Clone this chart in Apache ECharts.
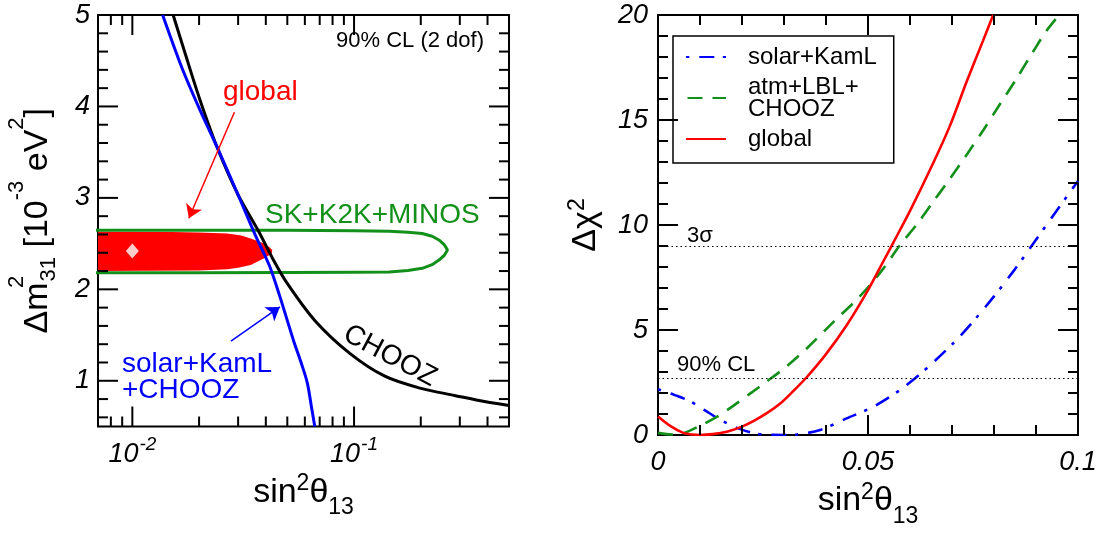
<!DOCTYPE html>
<html><head><meta charset="utf-8">
<script src="https://cdn.jsdelivr.net/npm/echarts@6/dist/echarts.min.js"></script>
<style>html,body{margin:0;padding:0;background:#fff}#c{width:1102px;height:535px}</style>
</head><body><div id="c"></div>
<script>
// ---------------- Left panel data (sin^2 theta13 vs dm^2_31) ----------------
const blueCurveX = [0.0137, 0.01675, 0.0201, 0.02406, 0.0299, 0.0359, 0.0415, 0.0463, 0.0497, 0.0535, 0.0575, 0.0615, 0.0642, 0.0665];
const blueCurveY = [5.0, 4.42, 3.97, 3.56, 3.04, 2.59, 2.26, 1.92, 1.68, 1.43, 1.21, 0.98, 0.72, 0.5];
const choozCurveX = [0.01528, 0.01735, 0.0201, 0.02406, 0.0299, 0.0372, 0.0431, 0.0498, 0.0665, 0.0957, 0.1377, 0.198, 0.284, 0.393, 0.5];
const choozCurveY = [5.0, 4.57, 4.085, 3.56, 3.04, 2.63, 2.33, 2.07, 1.66, 1.3, 1.05, 0.92, 0.84, 0.77, 0.73];
const greenContourX = [0.005, 0.05, 0.1, 0.144, 0.175, 0.203, 0.225, 0.2415, 0.255, 0.264, 0.255, 0.2415, 0.225, 0.203, 0.175, 0.144, 0.1, 0.05, 0.02, 0.005];
const greenContourY = [2.645, 2.645, 2.642, 2.635, 2.625, 2.61, 2.58, 2.54, 2.49, 2.43, 2.37, 2.32, 2.27, 2.23, 2.205, 2.19, 2.188, 2.185, 2.18, 2.18];
const redRegionX = [0.007, 0.015, 0.02, 0.0268, 0.031, 0.0342, 0.0393, 0.0415, 0.0428, 0.0425, 0.0393, 0.0342, 0.030, 0.0268, 0.02, 0.007];
const redRegionY = [2.63, 2.628, 2.622, 2.61, 2.59, 2.557, 2.50, 2.46, 2.43, 2.39, 2.34, 2.265, 2.235, 2.22, 2.205, 2.20];
const bestFitX = [0.01];
const bestFitY = [2.42];
const redArrow = [[0.02886, 3.936], [0.01799, 2.778]];
const blueArrow = [[0.02785, 1.434], [0.0463, 1.807]];

// ---------------- Right panel data (delta chi^2 vs sin^2 theta13) ----------------
const solarX = [0, 0.004, 0.0077, 0.011, 0.014, 0.017, 0.0196, 0.023, 0.026, 0.03, 0.033, 0.0386, 0.0449, 0.0513, 0.0576, 0.0631, 0.0703, 0.075, 0.08, 0.085, 0.09, 0.095, 0.1];
const solarY = [2.18, 1.9, 1.6, 1.2, 0.82, 0.5, 0.28, 0.08, 0.01, 0, 0.02, 0.24, 0.79, 1.35, 2.14, 3.02, 4.37, 5.4, 6.6, 7.9, 9.3, 10.7, 12.1];
const atmX = [0, 0.002, 0.004, 0.006, 0.01, 0.014, 0.018, 0.022, 0.0259, 0.0307, 0.0354, 0.0418, 0.0481, 0.0536, 0.0576, 0.0616, 0.0655, 0.0695, 0.0735, 0.0774, 0.0814, 0.0853, 0.0893, 0.0925, 0.0955];
const atmY = [0.1, 0.04, 0.02, 0.08, 0.44, 0.86, 1.4, 1.98, 2.55, 3.28, 4.12, 5.39, 6.61, 7.91, 9.04, 10.02, 11.1, 12.2, 13.35, 14.5, 15.75, 16.95, 18.25, 19.25, 20];
const globalX = [0, 0.003, 0.006, 0.008, 0.01, 0.013, 0.0164, 0.02, 0.0227, 0.026, 0.0291, 0.032, 0.0354, 0.04, 0.045, 0.05, 0.0536, 0.056, 0.06, 0.0655, 0.0695, 0.0735, 0.0774, 0.0798];
const globalY = [0.88, 0.42, 0.1, 0.02, 0, 0.04, 0.16, 0.4, 0.66, 1.05, 1.5, 2.05, 2.75, 3.85, 5.25, 6.9, 8.25, 9.15, 10.67, 12.94, 14.72, 16.83, 18.78, 20];
const clLevels = [9, 2.71];
const clLabels = ['3σ', '90% CL'];

// ---------------- Tick values ----------------
const leftXTicksMajor = [0.01, 0.1];
const leftXTicksMinor = [0.008, 0.009, 0.02, 0.03, 0.04, 0.05, 0.06, 0.07, 0.08, 0.09, 0.2, 0.3, 0.4];
const leftYTicksMajor = [1, 2, 3, 4];
const leftYTicksMinor = [0.6, 0.8, 1.2, 1.4, 1.6, 1.8, 2.2, 2.4, 2.6, 2.8, 3.2, 3.4, 3.6, 3.8, 4.2, 4.4, 4.6, 4.8];
const rightXTicksMajor = [0.05];
const rightXTicksMinor = [0.01, 0.02, 0.03, 0.04, 0.06, 0.07, 0.08, 0.09];
const rightYTicksMajor = [5, 10, 15];
const rightYTicksMinor = [1, 2, 3, 4, 6, 7, 8, 9, 11, 12, 13, 14, 16, 17, 18, 19];

// ---------------- Build chart ----------------
const FONT = '"Liberation Sans", Arial, Helvetica, sans-serif';
const zip = (xs, ys) => xs.map((x, i) => [x, ys[i]]);
const GREEN = '#12901a';

function tickData(xMaj, xMin, yMaj, yMin) {
  return [].concat(xMaj.map(v => [v, 0]), xMin.map(v => [v, 1]), yMaj.map(v => [v, 2]), yMin.map(v => [v, 3]));
}
function makeTickRenderer(xRef, yRef) {
  return function (params, api) {
    const cs = params.coordSys;
    const v = api.value(0), kind = api.value(1);
    const len = (kind === 0 || kind === 2) ? 20 : 10;
    const st = { stroke: '#000', lineWidth: 2 };
    let lines;
    if (kind < 2) {
      const px = api.coord([v, yRef])[0];
      lines = [
        { x1: px, y1: cs.y + cs.height, x2: px, y2: cs.y + cs.height - len },
        { x1: px, y1: cs.y, x2: px, y2: cs.y + len }
      ];
    } else {
      const py = api.coord([xRef, v])[1];
      lines = [
        { x1: cs.x, y1: py, x2: cs.x + len, y2: py },
        { x1: cs.x + cs.width, y1: py, x2: cs.x + cs.width - len, y2: py }
      ];
    }
    return { type: 'group', children: lines.map(s => ({ type: 'line', shape: s, style: st })) };
  };
}

const titleRich = {
  m: { fontSize: 34, fontFamily: FONT, color: '#000', lineHeight: 34, verticalAlign: 'bottom', padding: [0, 0, 10, 0] },
  sp: { fontSize: 23, fontFamily: FONT, color: '#000', lineHeight: 23, verticalAlign: 'bottom', padding: [0, 0, 24, 0] },
  sb: { fontSize: 23, fontFamily: FONT, color: '#000', lineHeight: 23, verticalAlign: 'bottom', padding: [0, 0, 0, 0] }
};
const yTitleRich = {
  m: { fontSize: 34, fontFamily: FONT, color: '#000', lineHeight: 34, verticalAlign: 'bottom', padding: [0, 0, 10, 0] },
  sp: { fontSize: 22, fontFamily: FONT, color: '#000', lineHeight: 22, verticalAlign: 'bottom', padding: [0, 0, 37, 0] },
  spn: { fontSize: 22, fontFamily: FONT, color: '#000', lineHeight: 22, verticalAlign: 'bottom', padding: [0, 0, 37, 0], width: 1, align: 'left' },
  sb: { fontSize: 22, fontFamily: FONT, color: '#000', lineHeight: 22, verticalAlign: 'bottom', padding: [0, 0, 5, 0] }
};
const tickLabelBase = { fontSize: 27, fontFamily: FONT, fontStyle: 'italic', color: '#000' };

const option = {
  animation: false,
  backgroundColor: '#fff',
  textStyle: { fontFamily: FONT },
  grid: [
    { left: 98, top: 15, width: 411, height: 411.5, show: true, borderColor: '#000', borderWidth: 2, backgroundColor: 'transparent', containLabel: false, outerBoundsMode: 'none' },
    { left: 658, top: 15, width: 420, height: 420, show: true, borderColor: '#000', borderWidth: 2, backgroundColor: 'transparent', containLabel: false, outerBoundsMode: 'none' }
  ],
  xAxis: [
    {
      gridIndex: 0, type: 'log', logBase: 10, min: 0.007, max: 0.5,
      axisLine: { show: false }, axisTick: { show: false }, splitLine: { show: false }, minorTick: { show: false }, minorSplitLine: { show: false },
      axisLabel: {
        showMinLabel: false, showMaxLabel: false, margin: 14, color: '#000',
        formatter: function (v) {
          const e = Math.log10(v);
          if (Math.abs(e - Math.round(e)) > 1e-6) return '';
          return '{b|10}{s|' + Math.round(e) + '}';
        },
        rich: {
          b: Object.assign({}, tickLabelBase, { lineHeight: 27, verticalAlign: 'bottom' }),
          s: Object.assign({}, tickLabelBase, { fontSize: 19, lineHeight: 19, verticalAlign: 'bottom', padding: [0, 0, 13, 1] })
        }
      },
      name: '{m|sin}{sp|2}{m|θ}{sb|13}', nameLocation: 'middle', nameGap: 59,
      nameTextStyle: { rich: titleRich }
    },
    {
      gridIndex: 1, type: 'value', min: 0, max: 0.1, interval: 0.05,
      axisLine: { show: false }, axisTick: { show: false }, splitLine: { show: false },
      axisLabel: Object.assign({}, tickLabelBase, {
        margin: 14,
        formatter: v => (v === 0 ? '0' : String(+v.toFixed(2)))
      }),
      name: '{m|sin}{sp|2}{m|θ}{sb|13}', nameLocation: 'middle', nameGap: 50,
      nameTextStyle: { rich: titleRich }
    }
  ],
  yAxis: [
    {
      gridIndex: 0, type: 'value', min: 0.5, max: 5, splitNumber: 5,
      axisLine: { show: false }, axisTick: { show: false }, splitLine: { show: false },
      axisLabel: Object.assign({}, tickLabelBase, {
        margin: 8, showMinLabel: false,
        formatter: v => (Number.isInteger(v) ? String(v) : '')
      }),
      name: '{m|Δm}{spn|2}{sb|31}{m| [10}{sp|-3}{m| eV}{sp|2}{m|]}',
      nameLocation: 'middle', nameRotate: 90, nameGap: 33,
      nameTextStyle: { rich: yTitleRich }
    },
    {
      gridIndex: 1, type: 'value', min: 0, max: 20, interval: 5,
      axisLine: { show: false }, axisTick: { show: false }, splitLine: { show: false },
      axisLabel: Object.assign({}, tickLabelBase, { margin: 10 }),
      name: '{m|Δχ}{sp|2}',
      nameLocation: 'middle', nameRotate: 90, nameGap: 45,
      nameTextStyle: { rich: titleRich }
    }
  ],
  legend: {
    data: ['solar+KamL', 'atm+LBL+CHOOZ', 'global'],
    orient: 'vertical', left: 673, top: 36,
    itemWidth: 40, itemHeight: 14, itemGap: 6,
    padding: [9, 17, 12, 12],
    borderColor: '#000', borderWidth: 1.5, borderRadius: 0, backgroundColor: '#fff',
    selectedMode: false,
    itemStyle: { opacity: 0 },
    formatter: n => (n === 'atm+LBL+CHOOZ' ? 'atm+LBL+\nCHOOZ' : n),
    textStyle: { fontSize: 24, fontFamily: FONT, color: '#000', lineHeight: 22, padding: [0, 0, 0, 17] }
  },
  graphic: [
    { type: 'text', x: 484, y: 41, z: 100, style: { text: '90% CL (2 dof)', fontSize: 22, fontFamily: FONT, fill: '#000', align: 'right', verticalAlign: 'middle' } },
    { type: 'text', x: 223, y: 92, z: 100, style: { text: 'global', fontSize: 28, fontFamily: FONT, fill: '#ff0000', align: 'left', verticalAlign: 'middle' } },
    { type: 'text', x: 265, y: 215, z: 100, style: { text: 'SK+K2K+MINOS', fontSize: 28, fontFamily: FONT, fill: GREEN, align: 'left', verticalAlign: 'middle' } },
    { type: 'text', x: 122, y: 364, z: 100, style: { text: 'solar+KamL', fontSize: 28, fontFamily: FONT, fill: '#0000ff', align: 'left', verticalAlign: 'middle' } },
    { type: 'text', x: 122, y: 390, z: 100, style: { text: '+CHOOZ', fontSize: 28, fontFamily: FONT, fill: '#0000ff', align: 'left', verticalAlign: 'middle' } },
    { type: 'text', x: 390, y: 356, rotation: -0.49, z: 100, style: { text: 'CHOOZ', fontSize: 28, fontFamily: FONT, fill: '#000', align: 'center', verticalAlign: 'middle' } },
    { type: 'text', x: 687, y: 236, z: 100, style: { text: clLabels[0], fontSize: 22, fontFamily: FONT, fill: '#000', align: 'left', verticalAlign: 'middle' } },
    { type: 'text', x: 677, y: 365, z: 100, style: { text: clLabels[1], fontSize: 22, fontFamily: FONT, fill: '#000', align: 'left', verticalAlign: 'middle' } }
  ],
  series: [
    // ----- left panel -----
    {
      name: 'global region', type: 'custom', xAxisIndex: 0, yAxisIndex: 0, z: 1,
      data: zip(redRegionX, redRegionY),
      renderItem: function (params, api) {
        if (params.dataIndex !== 0) return null;
        const pts = redRegionX.map((x, i) => api.coord([x, redRegionY[i]]));
        return { type: 'polygon', shape: { points: pts }, style: { fill: '#ff0000' } };
      }
    },
    {
      name: 'SK+K2K+MINOS', type: 'line', xAxisIndex: 0, yAxisIndex: 0, z: 2,
      data: zip(greenContourX, greenContourY), symbol: 'none', smooth: false,
      lineStyle: { color: GREEN, width: 3 }, itemStyle: { color: GREEN }
    },
    {
      name: 'CHOOZ', type: 'line', xAxisIndex: 0, yAxisIndex: 0, z: 3,
      data: zip(choozCurveX, choozCurveY), symbol: 'none', smooth: 0.3,
      lineStyle: { color: '#000', width: 3 }, itemStyle: { color: '#000' }
    },
    {
      name: 'solar+KamL+CHOOZ', type: 'line', xAxisIndex: 0, yAxisIndex: 0, z: 4,
      data: zip(blueCurveX, blueCurveY), symbol: 'none', smooth: 0.3,
      lineStyle: { color: '#0000ff', width: 3 }, itemStyle: { color: '#0000ff' }
    },
    {
      name: 'best fit', type: 'scatter', xAxisIndex: 0, yAxisIndex: 0, z: 5,
      data: zip(bestFitX, bestFitY), symbol: 'diamond', symbolSize: [13, 15],
      itemStyle: { color: '#fff' }
    },
    {
      name: 'arrows', type: 'lines', coordinateSystem: 'cartesian2d', xAxisIndex: 0, yAxisIndex: 0, z: 5,
      symbol: ['none', 'arrow'], symbolSize: 13,
      data: [
        { coords: redArrow, lineStyle: { color: '#ff0000', width: 1.5 } },
        { coords: blueArrow, lineStyle: { color: '#0000ff', width: 1.5 } }
      ],
      lineStyle: { opacity: 1, curveness: 0 }
    },
    {
      name: 'ticksL', type: 'custom', xAxisIndex: 0, yAxisIndex: 0, z: 6, silent: true,
      data: tickData(leftXTicksMajor, leftXTicksMinor, leftYTicksMajor, leftYTicksMinor),
      renderItem: makeTickRenderer(0.01, 1)
    },
    // ----- right panel -----
    {
      name: 'solar+KamL', type: 'line', xAxisIndex: 1, yAxisIndex: 1, z: 3,
      data: zip(solarX, solarY), symbol: 'none', smooth: 0.3,
      lineStyle: { color: '#0000ff', width: 2.6, type: [15, 8.5, 3.3, 10], dashOffset: 23.5 }, itemStyle: { color: '#0000ff' }
    },
    {
      name: 'atm+LBL+CHOOZ', type: 'line', xAxisIndex: 1, yAxisIndex: 1, z: 3,
      data: zip(atmX, atmY), symbol: 'none', smooth: 0.3,
      lineStyle: { color: GREEN, width: 2.6, type: [15, 10] }, itemStyle: { color: GREEN }
    },
    {
      name: 'global', type: 'line', xAxisIndex: 1, yAxisIndex: 1, z: 4,
      data: zip(globalX, globalY), symbol: 'none', smooth: 0.3,
      lineStyle: { color: '#ff0000', width: 2.6 }, itemStyle: { color: '#ff0000' },
      markLine: {
        silent: true, symbol: 'none', animation: false,
        label: { show: false },
        lineStyle: { color: '#000', width: 1.2, type: [1.5, 3] },
        emphasis: { disabled: true },
        data: clLevels.map(v => ({ yAxis: v }))
      }
    },
    {
      name: 'ticksR', type: 'custom', xAxisIndex: 1, yAxisIndex: 1, z: 6, silent: true,
      data: tickData(rightXTicksMajor, rightXTicksMinor, rightYTicksMajor, rightYTicksMinor),
      renderItem: makeTickRenderer(0.05, 5)
    }
  ]
};

const chart = echarts.init(document.getElementById('c'), null, { renderer: 'canvas' });
chart.setOption(option);
</script></body></html>
